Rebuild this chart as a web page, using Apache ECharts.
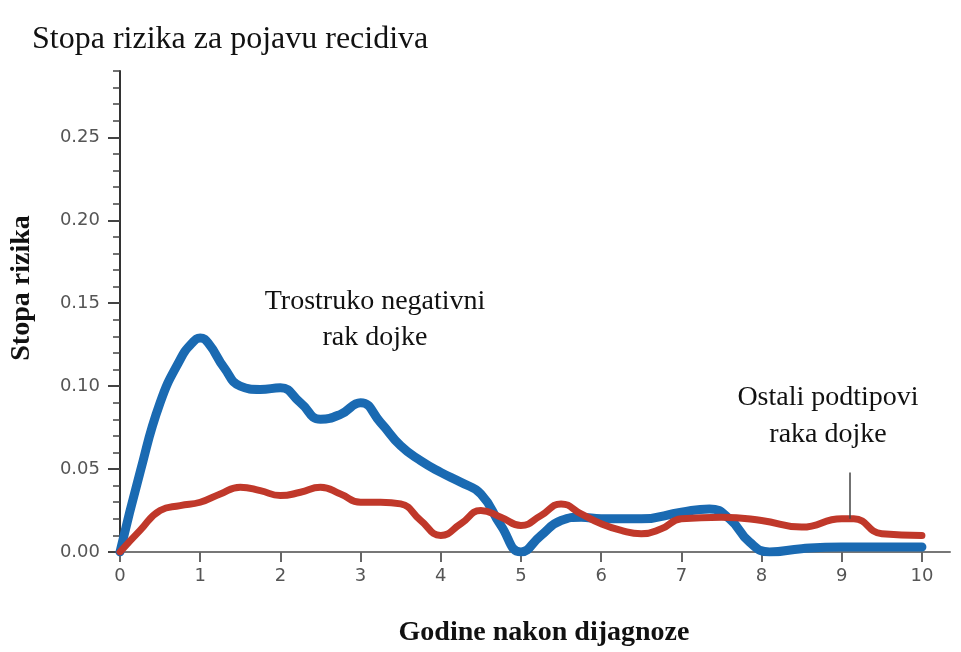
<!DOCTYPE html>
<html>
<head>
<meta charset="utf-8">
<script src="https://cdn.jsdelivr.net/npm/echarts@6/dist/echarts.min.js"></script>
<style>
html,body{margin:0;padding:0;background:#fff;}
#chart{width:961px;height:652px;}
</style>
</head>
<body>
<div id="chart"></div>
<script>
// Triple-negative breast cancer (blue)
const tnYears = [0,0.25,0.5,0.75,0.9,1.0,1.1,1.3,1.5,1.75,2.0,2.25,2.5,2.75,3.0,3.25,3.5,3.75,4.0,4.25,4.5,4.75,5.0,5.25,5.5,5.75,6.0,6.5,7.0,7.35,7.6,7.85,8.1,8.5,9.0,10.0];
const tnRate  = [0,0.048,0.09,0.116,0.126,0.129,0.126,0.111,0.1,0.098,0.099,0.09,0.08,0.083,0.09,0.078,0.064,0.055,0.048,0.042,0.035,0.016,0.0,0.01,0.019,0.021,0.02,0.02,0.024,0.026,0.02,0.006,0.0,0.002,0.003,0.003];
// Other subtypes (red)
const otherYears = [0,0.25,0.5,0.75,1.0,1.25,1.5,1.75,2.0,2.25,2.5,2.75,3.0,3.25,3.5,3.75,4.0,4.25,4.5,4.75,5.0,5.25,5.5,5.75,6.0,6.25,6.5,6.75,7.0,7.5,8.0,8.5,9.0,9.15,9.5,10.0];
const otherRate  = [0,0.013,0.025,0.028,0.03,0.035,0.039,0.037,0.034,0.036,0.039,0.035,0.03,0.03,0.029,0.019,0.01,0.017,0.025,0.021,0.016,0.022,0.029,0.023,0.017,0.013,0.011,0.014,0.02,0.021,0.019,0.015,0.02,0.02,0.011,0.01];
// Ticks
const xTicks = [0,1,2,3,4,5,6,7,8,9,10];
const yTicks = [0,0.05,0.10,0.15,0.20,0.25];
// Annotation pointer line (data coordinates)
const pointerX = 9.1;
const pointerY = [0.048, 0.02];

const serif = '"Liberation Serif", "DejaVu Serif", serif';
const sans = '"DejaVu Sans", sans-serif';

const chart = echarts.init(document.getElementById('chart'), null, {renderer:'canvas'});
chart.setOption({
  animation: false,
  backgroundColor: '#ffffff',
  grid: {left: 120, right: 11, top: 71, bottom: 100},
  xAxis: {
    type: 'value', min: 0, max: 10.35, interval: 1,
    axisLine: {show: true, onZero: false, lineStyle: {color: '#777', width: 2}},
    axisTick: {show: true, length: 10, customValues: xTicks, lineStyle: {color: '#666', width: 2}},
    axisLabel: {customValues: xTicks, margin: 15, fontFamily: sans, fontSize: 18, color: '#555'},
    splitLine: {show: false}
  },
  yAxis: [{
    type: 'value', min: 0, max: 0.29, interval: 0.05,
    axisLine: {show: true, lineStyle: {color: '#333', width: 2}},
    axisTick: {show: true, length: 12, customValues: yTicks, lineStyle: {color: '#444', width: 2}},
    axisLabel: {customValues: yTicks, margin: 20, fontFamily: sans, fontSize: 18, color: '#555',
      formatter: v => v.toFixed(2)},
    splitLine: {show: false}
  },{
    type: 'value', min: 0, max: 0.29, interval: 0.01, position: 'left',
    axisLine: {show: false},
    axisTick: {show: true, length: 7, lineStyle: {color: '#444', width: 1.5}},
    axisLabel: {show: false},
    splitLine: {show: false}
  }],
  series: [{
    type: 'line', name: 'Trostruko negativni rak dojke',
    data: tnYears.map((x,i) => [x, tnRate[i]]),
    smooth: 0.5, showSymbol: false,
    lineStyle: {color: '#1a6ab2', width: 9, cap: 'round', join: 'round'},
    z: 3
  },{
    type: 'line', name: 'Ostali podtipovi raka dojke',
    data: otherYears.map((x,i) => [x, otherRate[i]]),
    smooth: 0.5, showSymbol: false,
    lineStyle: {color: '#c0382a', width: 7, cap: 'round', join: 'round'},
    z: 4,
    markLine: {
      silent: true, symbol: ['none','none'],
      label: {show: false},
      lineStyle: {color: '#444', width: 1.5, type: 'solid'},
      data: [[{coord: [pointerX, pointerY[0]]}, {coord: [pointerX, pointerY[1]]}]]
    }
  }],
  graphic: [
    {type:'text', left: 32, top: 24, style:{text:'Stopa rizika za pojavu recidiva', font:'32px ' + serif, fill:'#111'}},
    {type:'text', x: 22, y: 288, rotation: Math.PI/2,
      style:{text:'Stopa rizika', font:'bold 28px ' + serif, fill:'#111', textAlign:'center', textVerticalAlign:'middle'}},
    {type:'text', x: 544, y: 633,
      style:{text:'Godine nakon dijagnoze', font:'bold 28px ' + serif, fill:'#111', textAlign:'center', textVerticalAlign:'middle'}},
    {type:'text', x: 375, y: 302,
      style:{text:'Trostruko negativni', font:'28px ' + serif, fill:'#111', textAlign:'center', textVerticalAlign:'middle'}},
    {type:'text', x: 375, y: 338,
      style:{text:'rak dojke', font:'28px ' + serif, fill:'#111', textAlign:'center', textVerticalAlign:'middle'}},
    {type:'text', x: 828, y: 398,
      style:{text:'Ostali podtipovi', font:'28px ' + serif, fill:'#111', textAlign:'center', textVerticalAlign:'middle'}},
    {type:'text', x: 828, y: 435,
      style:{text:'raka dojke', font:'28px ' + serif, fill:'#111', textAlign:'center', textVerticalAlign:'middle'}}
  ]
});
</script>
</body>
</html>
